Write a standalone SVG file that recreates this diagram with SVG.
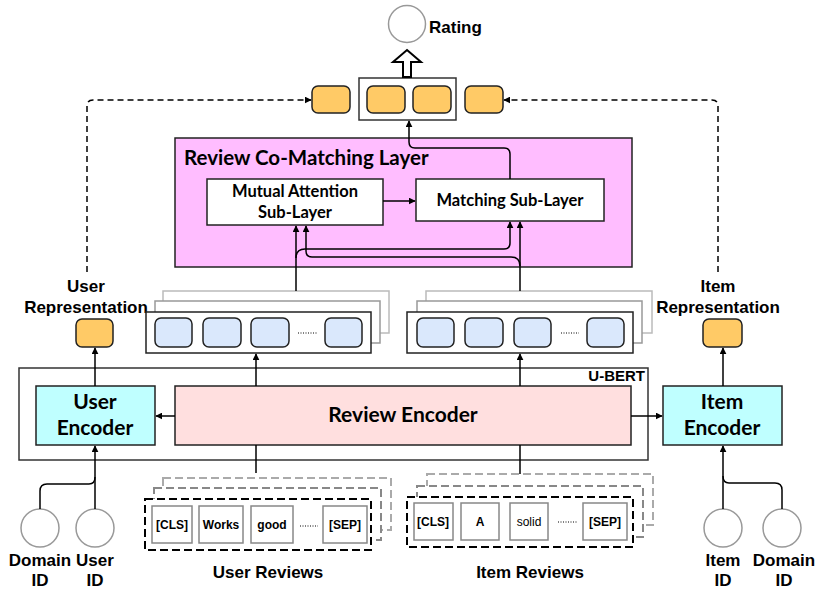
<svg xmlns="http://www.w3.org/2000/svg" width="819" height="601" viewBox="0 0 819 601">
<defs>
<marker id="ah" viewBox="0 0 10 10" refX="9" refY="5" markerWidth="7" markerHeight="7" markerUnits="userSpaceOnUse" orient="auto">
<path d="M0,0 L10,5 L0,10 z" fill="#000"/>
</marker>
<style>
.lbl{font-family:"Liberation Sans",Arial,sans-serif;font-weight:bold;font-size:17px;fill:#000}
.tok{font-family:"Liberation Sans",Arial,sans-serif;font-weight:bold;font-size:12px;fill:#000}
.enc{font-family:Lato,"Noto Sans",sans-serif;font-weight:bold;font-size:21px;fill:#000}
.sub{font-family:Lato,"Noto Sans",sans-serif;font-weight:bold;font-size:16.5px;fill:#000}
.orange{fill:#FFCA66;stroke:#222;stroke-width:1.5}
.blue{fill:#DAE8FC;stroke:#222;stroke-width:1.5}
.tbox{fill:#fff;stroke:#888;stroke-width:1.5}
.circ{fill:#fff;stroke:#999;stroke-width:1.5}
.ln{fill:none;stroke:#000;stroke-width:1.5}
.dash{fill:none;stroke:#000;stroke-width:1.5;stroke-dasharray:6,4}
</style>
</defs>

<g id="rating">
<circle class="circ" cx="407" cy="24" r="18.5"/>
<text class="lbl" x="429" y="33">Rating</text>
</g>

<g id="output-pair">
<rect x="359" y="78" width="97" height="42" fill="#fff" stroke="#333" stroke-width="1.5"/>
<rect class="orange" x="367" y="86" width="38" height="27" rx="6"/>
<rect class="orange" x="413" y="86" width="38" height="27" rx="6"/>
</g>
<g id="user-out"><rect class="orange" x="312" y="86" width="38" height="27" rx="6"/></g>
<g id="item-out"><rect class="orange" x="465" y="86" width="38" height="27" rx="6"/></g>

<g id="co-matching">
<rect x="175" y="138" width="457" height="129" fill="#FFBDFF" stroke="#222" stroke-width="1.5"/>
<text class="enc" x="184" y="165" style="font-size:20.5px">Review Co-Matching Layer</text>
</g>
<g id="mutual-attention">
<rect x="207" y="179" width="176" height="46" fill="#fff" stroke="#222" stroke-width="1.5"/>
<text class="sub" x="295" y="197" text-anchor="middle">Mutual Attention</text>
<text class="sub" x="295" y="218" text-anchor="middle">Sub-Layer</text>
</g>
<g id="matching">
<rect x="416" y="179" width="188" height="42" fill="#fff" stroke="#222" stroke-width="1.5"/>
<text class="sub" x="510" y="206" text-anchor="middle">Matching Sub-Layer</text>
</g>

<g id="user-rep">
<text class="lbl" x="86" y="292" text-anchor="middle">User</text>
<text class="lbl" x="86" y="313" text-anchor="middle">Representation</text>
<rect class="orange" x="76" y="319" width="37" height="28" rx="6"/>
</g>
<g id="item-rep">
<text class="lbl" x="718" y="292" text-anchor="middle">Item</text>
<text class="lbl" x="718" y="313" text-anchor="middle">Representation</text>
<rect class="orange" x="703" y="319" width="39" height="28" rx="6"/>
</g>

<g id="user-hidden">
<rect x="163" y="291" width="226" height="42" fill="#fff" stroke="#bbb" stroke-width="1.5"/>
<rect x="155" y="301" width="225" height="42" fill="#fff" stroke="#999" stroke-width="1.5"/>
<rect x="146" y="312" width="225" height="41" fill="#fff" stroke="#222" stroke-width="1.5"/>
<rect class="blue" x="155" y="318" width="37" height="29" rx="6"/>
<rect class="blue" x="203" y="318" width="38" height="29" rx="6"/>
<rect class="blue" x="251" y="318" width="38" height="29" rx="6"/>
<line x1="298" y1="333" x2="317" y2="333" stroke="#000" stroke-width="1" stroke-dasharray="1,1.5"/>
<rect class="blue" x="325" y="318" width="37" height="29" rx="6"/>
</g>
<g id="item-hidden">
<rect x="426" y="291" width="226" height="42" fill="#fff" stroke="#bbb" stroke-width="1.5"/>
<rect x="417" y="301" width="225" height="42" fill="#fff" stroke="#999" stroke-width="1.5"/>
<rect x="407" y="312" width="226" height="41" fill="#fff" stroke="#222" stroke-width="1.5"/>
<rect class="blue" x="417" y="318" width="37" height="29" rx="6"/>
<rect class="blue" x="465" y="318" width="38" height="29" rx="6"/>
<rect class="blue" x="514" y="318" width="37" height="29" rx="6"/>
<line x1="561" y1="333" x2="579" y2="333" stroke="#000" stroke-width="1" stroke-dasharray="1,1.5"/>
<rect class="blue" x="587" y="318" width="37" height="29" rx="6"/>
</g>

<g id="u-bert">
<rect x="19" y="368" width="629" height="92" fill="#fff" stroke="#333" stroke-width="1.5"/>
<text class="lbl" x="645" y="381" text-anchor="end" style="font-size:15px">U-BERT</text>
</g>
<g id="user-encoder">
<rect x="36" y="386" width="119" height="59" fill="#BFFFFF" stroke="#222" stroke-width="1.5"/>
<text class="enc" x="95" y="409" text-anchor="middle">User</text>
<text class="enc" x="95" y="435" text-anchor="middle">Encoder</text>
</g>
<g id="review-encoder">
<rect x="175" y="386" width="456" height="59" fill="#FFDFDF" stroke="#222" stroke-width="1.5"/>
<text class="enc" x="403" y="422" text-anchor="middle">Review Encoder</text>
</g>
<g id="item-encoder">
<rect x="663" y="386" width="119" height="59" fill="#BFFFFF" stroke="#222" stroke-width="1.5"/>
<text class="enc" x="722" y="409" text-anchor="middle">Item</text>
<text class="enc" x="722" y="435" text-anchor="middle">Encoder</text>
</g>

<g id="user-reviews">
<rect x="163" y="478" width="228" height="52" fill="none" stroke="#aaa" stroke-width="2" stroke-dasharray="8,4"/>
<rect x="154" y="488" width="227" height="52" fill="#fff" stroke="#888" stroke-width="2" stroke-dasharray="8,4"/>
<rect x="145" y="499" width="226" height="51" fill="#fff" stroke="#000" stroke-width="2" stroke-dasharray="8,4"/>
<rect class="tbox" x="152" y="506" width="40" height="37"/>
<text class="tok" x="172" y="529" text-anchor="middle">[CLS]</text>
<rect class="tbox" x="199" y="506" width="44" height="37"/>
<text class="tok" x="221" y="529" text-anchor="middle">Works</text>
<rect class="tbox" x="251" y="506" width="42" height="37"/>
<text class="tok" x="272" y="529" text-anchor="middle">good</text>
<line x1="300" y1="526" x2="318" y2="526" stroke="#000" stroke-width="1" stroke-dasharray="1,1.5"/>
<rect class="tbox" x="323" y="506" width="44" height="37"/>
<text class="tok" x="345" y="529" text-anchor="middle">[SEP]</text>
<text class="lbl" x="268" y="578" text-anchor="middle">User Reviews</text>
</g>
<g id="item-reviews">
<rect x="427" y="474" width="226" height="51" fill="none" stroke="#aaa" stroke-width="2" stroke-dasharray="8,4"/>
<rect x="417" y="486" width="226" height="51" fill="#fff" stroke="#888" stroke-width="2" stroke-dasharray="8,4"/>
<rect x="407" y="497" width="226" height="50" fill="#fff" stroke="#000" stroke-width="2" stroke-dasharray="8,4"/>
<rect class="tbox" x="414" y="503" width="39" height="37"/>
<text class="tok" x="433" y="526" text-anchor="middle">[CLS]</text>
<rect class="tbox" x="461" y="503" width="38" height="37"/>
<text class="tok" x="480" y="526" text-anchor="middle">A</text>
<rect class="tbox" x="510" y="503" width="38" height="37"/>
<text class="tok" x="529" y="526" text-anchor="middle" style="font-weight:normal">solid</text>
<line x1="558" y1="522" x2="577" y2="522" stroke="#000" stroke-width="1" stroke-dasharray="1,1.5"/>
<rect class="tbox" x="583" y="503" width="44" height="37"/>
<text class="tok" x="605" y="526" text-anchor="middle">[SEP]</text>
<text class="lbl" x="530" y="578" text-anchor="middle">Item Reviews</text>
</g>

<g id="domain-id-u">
<circle class="circ" cx="40" cy="528" r="19"/>
<text class="lbl" x="40" y="566" text-anchor="middle">Domain</text>
<text class="lbl" x="40" y="586" text-anchor="middle">ID</text>
</g>
<g id="user-id">
<circle class="circ" cx="95" cy="528" r="19"/>
<text class="lbl" x="95" y="566" text-anchor="middle">User</text>
<text class="lbl" x="95" y="586" text-anchor="middle">ID</text>
</g>
<g id="item-id">
<circle class="circ" cx="723" cy="528" r="19"/>
<text class="lbl" x="723" y="566" text-anchor="middle">Item</text>
<text class="lbl" x="723" y="586" text-anchor="middle">ID</text>
</g>
<g id="domain-id-i">
<circle class="circ" cx="782" cy="528" r="19"/>
<text class="lbl" x="784" y="566" text-anchor="middle">Domain</text>
<text class="lbl" x="784" y="586" text-anchor="middle">ID</text>
</g>

<g id="connectors">
<polygon points="407,50 421,62 411,62 411,77 403,77 403,62 393,62" fill="#fff" stroke="#000" stroke-width="2" stroke-linejoin="miter"/>
<path class="dash" d="M87,272 V106 Q87,100 93,100 H311" marker-end="url(#ah)"/>
<path class="dash" d="M718,272 V106 Q718,100 712,100 H504" marker-end="url(#ah)"/>
<path class="ln" d="M510,179 V154 Q510,148 504,148 H415 Q409,148 409,142 V121" marker-end="url(#ah)"/>
<path class="ln" d="M383,201 H415" marker-end="url(#ah)"/>
<path class="ln" d="M296,291 V226" marker-end="url(#ah)"/>
<path class="ln" d="M520,291 V222" marker-end="url(#ah)"/>
<path class="ln" d="M296,258 Q296,249 305,249 H504 Q510,249 510,243 V222" marker-end="url(#ah)"/>
<path class="ln" d="M520,266 Q520,257 511,257 H312 Q306,257 306,251 V226" marker-end="url(#ah)"/>
<path class="ln" d="M256,386 V354" marker-end="url(#ah)"/>
<path class="ln" d="M520,386 V354" marker-end="url(#ah)"/>
<path class="ln" d="M175,416 H156" marker-end="url(#ah)"/>
<path class="ln" d="M631,416 H662" marker-end="url(#ah)"/>
<path class="ln" d="M95,386 V348" marker-end="url(#ah)"/>
<path class="ln" d="M723,386 V348" marker-end="url(#ah)"/>
<path class="ln" d="M256,445 V473"/>
<path class="ln" d="M520,445 V474"/>
<path class="ln" d="M95,509 V446" marker-end="url(#ah)"/>
<path class="ln" d="M40,509 V491 Q40,484 47,484 H89 Q95,484 95,477"/>
<path class="ln" d="M723,509 V446" marker-end="url(#ah)"/>
<path class="ln" d="M782,509 V490 Q782,483 775,483 H729 Q723,483 723,476"/>
</g>
</svg>
